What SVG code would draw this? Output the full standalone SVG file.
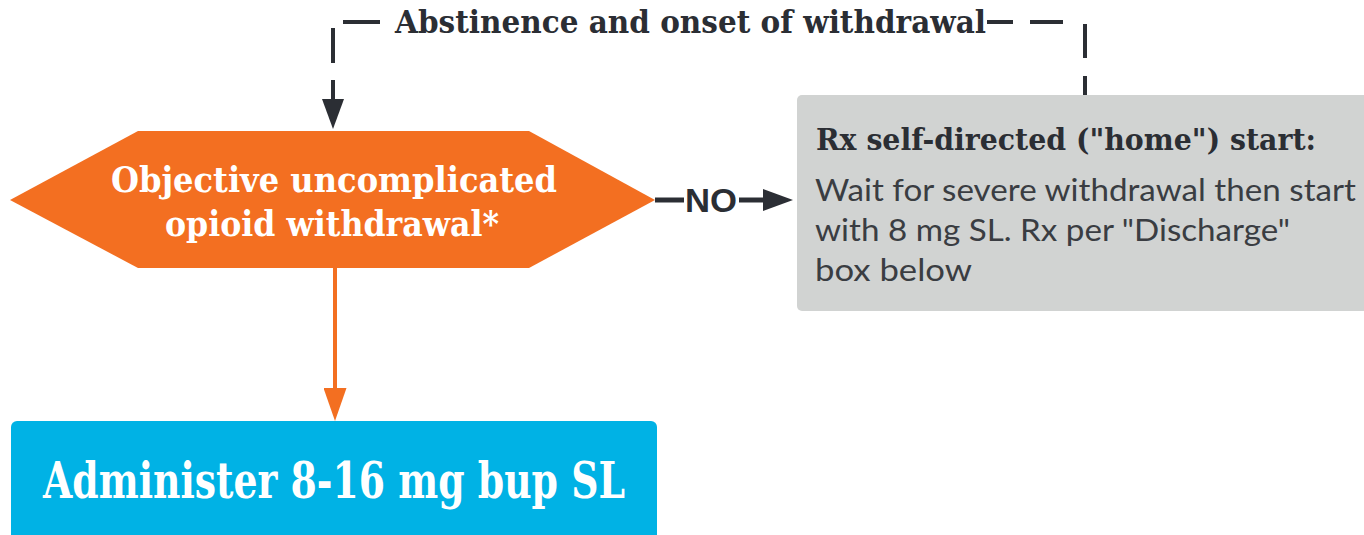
<svg xmlns="http://www.w3.org/2000/svg" width="1364" height="535" viewBox="0 0 1364 535">
  <style>
    .slab { font-family: "DejaVu Serif", "Liberation Serif", serif; font-weight: bold; }
    .sans { font-family: Lato, "Noto Sans", "Liberation Sans", sans-serif; }
    .dash { stroke: #2b2e34; stroke-width: 4; fill: none; }
    .solid-dark { stroke: #2b2e34; stroke-width: 5; fill: none; }
    .solid-orange { stroke: #f36f21; stroke-width: 4; fill: none; }
  </style>
  <defs>
    <marker id="arrDark" markerUnits="userSpaceOnUse" markerWidth="30" markerHeight="22" refX="0" refY="11" orient="auto">
      <path d="M0,0 L30,11 L0,22 z" fill="#2b2e34"/>
    </marker>
    <marker id="arrOrange" markerUnits="userSpaceOnUse" markerWidth="33" markerHeight="23" refX="0" refY="11.5" orient="auto">
      <path d="M0,0 L33,11.5 L0,23 z" fill="#f36f21"/>
    </marker>
  </defs>
  <rect width="1364" height="535" fill="#ffffff"/>

  <g id="connectors">
    <!-- dashed feedback loop -->
    <line class="dash" x1="1085" y1="95" x2="1085" y2="76"/>
    <line class="dash" x1="1085" y1="58" x2="1085" y2="24"/>
    <line class="dash" x1="1063" y1="22" x2="1030" y2="22"/>
    <line class="dash" x1="1013" y1="22" x2="987" y2="22"/>
    <line class="dash" x1="380" y1="22" x2="343" y2="22"/>
    <line class="dash" x1="333" y1="28" x2="333" y2="63"/>
    <line class="dash" x1="333" y1="80" x2="333" y2="99" marker-end="url(#arrDark)"/>
    <text class="slab" x="395" y="33" font-size="32" fill="#2b2e34" textLength="591" lengthAdjust="spacingAndGlyphs">Abstinence and onset of withdrawal</text>
    <!-- NO connector -->
    <line class="solid-dark" x1="655" y1="200" x2="684" y2="200"/>
    <text x="711" y="212" font-family="'Liberation Sans', Arial, sans-serif" font-weight="bold" font-size="33" fill="#2b2e34" text-anchor="middle" textLength="52" lengthAdjust="spacingAndGlyphs">NO</text>
    <line class="solid-dark" x1="739" y1="200" x2="763" y2="200" marker-end="url(#arrDark)"/>
    <!-- orange down arrow -->
    <line class="solid-orange" x1="335" y1="268" x2="335" y2="388" marker-end="url(#arrOrange)"/>
  </g>

  <g id="node-decision">
    <polygon points="10,200 138,131 529,131 655,200 529,268 138,268" fill="#f36f21"/>
    <text class="slab" x="334" y="192" font-size="36" fill="#ffffff" text-anchor="middle" textLength="446" lengthAdjust="spacingAndGlyphs">Objective uncomplicated</text>
    <text class="slab" x="332" y="236" font-size="36" fill="#ffffff" text-anchor="middle" textLength="334" lengthAdjust="spacingAndGlyphs">opioid withdrawal*</text>
  </g>

  <g id="node-home">
    <rect x="797" y="95" width="580" height="216" rx="5" ry="5" fill="#d1d3d2"/>
    <text class="slab" x="816" y="150" font-size="30" fill="#2b2e34" textLength="500" lengthAdjust="spacingAndGlyphs">Rx self-directed ("home") start:</text>
    <text class="sans" x="815" y="201" font-size="30" fill="#3a3d42" textLength="541" lengthAdjust="spacingAndGlyphs">Wait for severe withdrawal then start</text>
    <text class="sans" x="815" y="241" font-size="30" fill="#3a3d42" textLength="475" lengthAdjust="spacingAndGlyphs">with 8 mg SL. Rx per "Discharge"</text>
    <text class="sans" x="815" y="281" font-size="30" fill="#3a3d42" textLength="157" lengthAdjust="spacingAndGlyphs">box below</text>
  </g>

  <g id="node-administer">
    <rect x="11" y="421" width="646" height="130" rx="6" ry="6" fill="#00b2e5"/>
    <text class="slab" x="43" y="498" font-size="50" fill="#ffffff" textLength="582" lengthAdjust="spacingAndGlyphs">Administer 8-16 mg bup SL</text>
  </g>
</svg>
